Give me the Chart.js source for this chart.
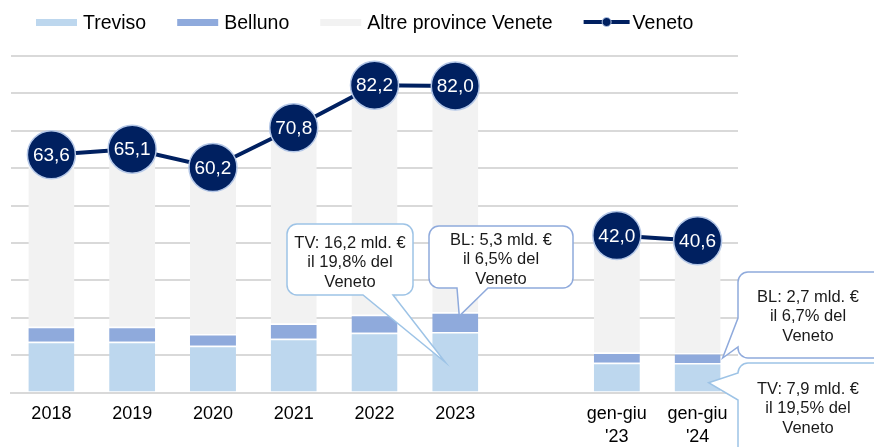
<!DOCTYPE html>
<html>
<head>
<meta charset="utf-8">
<script src="https://cdn.jsdelivr.net/npm/chart.js@4.4.1/dist/chart.umd.min.js"></script>
<style>
  html, body { margin: 0; padding: 0; background: #fff; }
  #wrap { width: 874px; height: 447px; position: relative; }
</style>
</head>
<body>
<div id="wrap"><canvas id="chart"></canvas></div>
<script>
const labels = ['2018', '2019', '2020', '2021', '2022', '2023', '', ['gen-giu', "'23"], ['gen-giu', "'24"]];
const treviso = [13.6, 13.6, 12.5, 14.4, 16.0, 16.2, null, 8.0, 7.9];
const belluno = [4.0, 4.0, 3.2, 4.1, 4.8, 5.3, null, 2.7, 2.7];
const altre = [46.0, 47.5, 44.5, 52.3, 61.4, 60.5, null, 31.3, 30.0];
const veneto = [63.6, 65.1, 60.2, 70.8, 82.2, 82.0, null, 42.0, 40.6];

const FONT = '"Liberation Sans", Arial, sans-serif';
const NAVY = '#002060';

function fmt(v) {
    return v.toFixed(1).replace('.', ',');
}

// callout boxes (TV = Treviso, BL = Belluno)
const callouts = [
    { code: 'TV', series: treviso, idx: 5, box: [287, 224, 126, 71], side: 'bottom', base: [363, 393], ty: 243, border: '#9dc3e6' },
    { code: 'BL', series: belluno, idx: 5, box: [429, 226, 144, 62], side: 'bottom', base: [457, 488], ty: 240, border: '#8faadc' },
    { code: 'BL', series: belluno, idx: 8, box: [738, 272, 150, 86], side: 'left', base: [318, 347], ty: 297, border: '#8faadc' },
    { code: 'TV', series: treviso, idx: 8, box: [738, 363, 150, 100], side: 'left', base: [373, 400], ty: 389, border: '#9dc3e6' }
];

function calloutPath(ctx, c, tip) {
    const [x, y, w, h] = c.box;
    const r = 10;
    const [a, b] = c.base;
    ctx.beginPath();
    ctx.moveTo(x + r, y);
    ctx.lineTo(x + w - r, y);
    ctx.arcTo(x + w, y, x + w, y + r, r);
    ctx.lineTo(x + w, y + h - r);
    ctx.arcTo(x + w, y + h, x + w - r, y + h, r);
    if (c.side === 'bottom') {
        ctx.lineTo(b, y + h);
        ctx.lineTo(tip.x, tip.y);
        ctx.lineTo(a, y + h);
    }
    ctx.lineTo(x + r, y + h);
    ctx.arcTo(x, y + h, x, y + h - r, r);
    if (c.side === 'left') {
        ctx.lineTo(x, b);
        ctx.lineTo(tip.x, tip.y);
        ctx.lineTo(x, a);
    }
    ctx.lineTo(x, y + r);
    ctx.arcTo(x, y, x + r, y, r);
    ctx.closePath();
}

const extras = {
    id: 'extras',
    afterDatasetsDraw(chart) {
        const ctx = chart.ctx;
        const meta = chart.getDatasetMeta(3);
        ctx.save();
        ctx.fillStyle = '#fff';
        ctx.font = '19px ' + FONT;
        ctx.textAlign = 'center';
        ctx.textBaseline = 'middle';
        meta.data.forEach((pt, i) => {
            if (veneto[i] == null) return;
            ctx.fillText(fmt(veneto[i]), pt.x, pt.y + 1);
        });
        ctx.restore();
    },
    afterDraw(chart) {
        const ctx = chart.ctx;
        const y = chart.scales.y;
        ctx.save();

        // legend
        ctx.font = '19.5px ' + FONT;
        ctx.textBaseline = 'alphabetic';
        ctx.fillStyle = '#000';
        let lx = 36;
        chart.data.datasets.forEach((ds) => {
            if (ds.type === 'line') {
                ctx.strokeStyle = NAVY;
                ctx.lineWidth = 4;
                ctx.beginPath();
                ctx.moveTo(lx, 22);
                ctx.lineTo(lx + 46, 22);
                ctx.stroke();
                ctx.beginPath();
                ctx.arc(lx + 23, 22, 4.5, 0, Math.PI * 2);
                ctx.fillStyle = NAVY;
                ctx.fill();
                ctx.lineWidth = 1;
                ctx.strokeStyle = '#b4c7e7';
                ctx.stroke();
                ctx.fillStyle = '#000';
                ctx.fillText(ds.label, lx + 49, 29);
            } else {
                ctx.fillStyle = ds.backgroundColor;
                ctx.fillRect(lx, 19, 41, 7);
                ctx.fillStyle = '#000';
                ctx.fillText(ds.label, lx + 47, 29);
                lx += 47 + ctx.measureText(ds.label).width + 31;
            }
        });

        // callouts
        callouts.forEach((c) => {
            const bar = chart.getDatasetMeta(c.code === 'TV' ? 0 : 1).data[c.idx];
            const t = treviso[c.idx], b = belluno[c.idx];
            let tip;
            if (c.code === 'TV' && c.side === 'bottom') tip = { x: bar.x - 10, y: y.getPixelForValue(t / 2) };
            else if (c.code === 'BL' && c.side === 'bottom') tip = { x: bar.x + 4, y: y.getPixelForValue(t + b * 0.8) };
            else if (c.code === 'BL') tip = { x: bar.x + bar.width / 2 + 2, y: y.getPixelForValue(t + b / 2) };
            else tip = { x: bar.x + 11, y: y.getPixelForValue(t / 3) };

            calloutPath(ctx, c, tip);
            ctx.fillStyle = '#fff';
            ctx.fill();
            ctx.lineWidth = 1.5;
            ctx.strokeStyle = c.border;
            ctx.stroke();

            const share = c.series[c.idx] / veneto[c.idx] * 100;
            const lines = [c.code + ': ' + fmt(c.series[c.idx]) + ' mld. €', 'il ' + fmt(share) + '% del', 'Veneto'];
            ctx.fillStyle = '#1a1a1a';
            ctx.font = '16.5px ' + FONT;
            ctx.textAlign = 'center';
            ctx.textBaseline = 'middle';
            const cx = c.box[0] + (c.side === 'left' ? 70 : c.box[2] / 2);
            lines.forEach((s, k) => ctx.fillText(s, cx, c.ty + k * 19.5));
        });
        ctx.restore();
    }
};

const barStyle = {
    barPercentage: 0.57,
    categoryPercentage: 1.0,
    borderColor: '#fff',
    borderWidth: { top: 1.5, left: 0, right: 0, bottom: 0 },
    borderSkipped: 'start',
    order: 1
};

const config = {
    type: 'bar',
    data: {
        labels: labels,
        datasets: [
            Object.assign({ label: 'Treviso', data: treviso, backgroundColor: '#bdd7ee' }, barStyle),
            Object.assign({ label: 'Belluno', data: belluno, backgroundColor: '#8faadc' }, barStyle),
            Object.assign({ label: 'Altre province Venete', data: altre, backgroundColor: '#f2f2f2' }, barStyle),
            {
                type: 'line',
                label: 'Veneto',
                data: veneto,
                stack: 'veneto',
                order: 0,
                borderColor: NAVY,
                borderWidth: 4,
                pointRadius: 24,
                pointHoverRadius: 24,
                pointBackgroundColor: NAVY,
                pointBorderColor: '#b4c7e7',
                pointBorderWidth: 1.5,
                spanGaps: false,
                tension: 0
            }
        ]
    },
    options: {
        responsive: true,
        maintainAspectRatio: false,
        animation: false,
        events: [],
        layout: { autoPadding: false, padding: { top: 56, left: 11, right: 136, bottom: -3.6 } },
        plugins: {
            legend: { display: false },
            tooltip: { enabled: false }
        },
        scales: {
            x: {
                stacked: true,
                grid: { display: false },
                border: { color: '#d9d9d9', width: 2 },
                ticks: {
                    color: '#000',
                    font: { family: FONT, size: 18, lineHeight: 1.25 },
                    padding: 2.5,
                    maxRotation: 0,
                    autoSkip: false
                }
            },
            y: {
                stacked: true,
                min: 0,
                max: 90,
                ticks: { stepSize: 10, display: false },
                grid: { color: '#d9d9d9', lineWidth: 2, drawTicks: false },
                border: { display: false }
            }
        }
    },
    plugins: [extras]
};

new Chart(document.getElementById('chart'), config);
</script>
</body>
</html>
